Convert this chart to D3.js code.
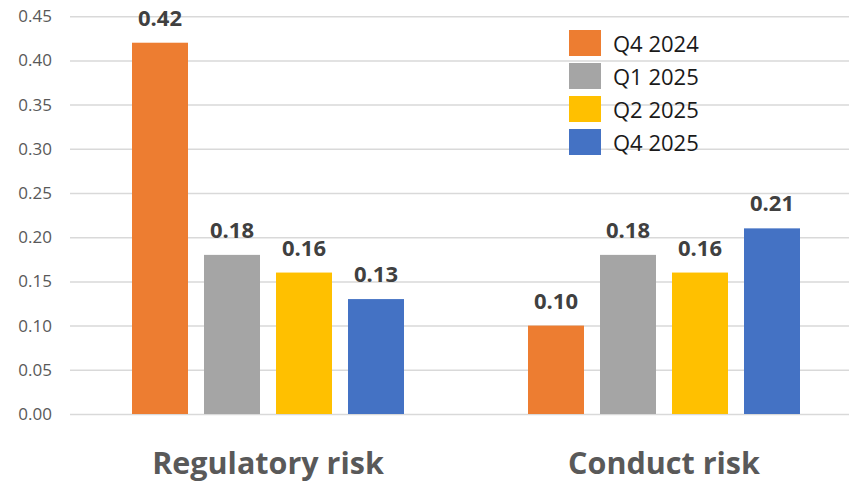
<!DOCTYPE html>
<html>
<head>
<meta charset="utf-8">
<script src="https://cdn.jsdelivr.net/npm/d3@7"></script>
<style>
  html, body { margin: 0; padding: 0; background: #fff; }
  svg { display: block; }
</style>
</head>
<body>
<svg id="chart" width="849" height="484"></svg>
<script>
// Risk categories and quarterly series
const categories = ["Regulatory risk", "Conduct risk"];
const seriesNames = ["Q4 2024", "Q1 2025", "Q2 2025", "Q4 2025"];
const seriesColors = ["#ED7D31", "#A5A5A5", "#FFC000", "#4472C4"];
const q4_2024 = [0.42, 0.10];
const q1_2025 = [0.18, 0.18];
const q2_2025 = [0.16, 0.16];
const q4_2025 = [0.13, 0.21];
const yTicks = [0, 0.05, 0.10, 0.15, 0.20, 0.25, 0.30, 0.35, 0.40, 0.45];

const seriesValues = [q4_2024, q1_2025, q2_2025, q4_2025];

const svg = d3.select("#chart");
const font = "'Open Sans', 'DejaVu Sans', sans-serif";

const y = d3.scaleLinear().domain([0, 0.45]).range([414, 16.2]);
const x0 = d3.scaleBand().domain(categories).range([70, 862]).paddingInner(0).paddingOuter(0);

// bars within each category occupy a centred block
const groupWidth = 272;
const x1 = d3.scaleBand().domain(seriesNames)
  .range([(x0.bandwidth() - groupWidth) / 2, (x0.bandwidth() + groupWidth) / 2])
  .paddingInner(16 / 72).paddingOuter(0);

// Gridlines and value axis
const yAxis = d3.axisLeft(y).tickValues(yTicks).tickSize(-780).tickFormat(d3.format(".2f")).tickPadding(18);
const gAxis = svg.append("g").attr("transform", "translate(70,0)").call(yAxis);
gAxis.select(".domain").remove();
gAxis.selectAll(".tick line").attr("stroke", "#D9D9D9").attr("stroke-width", 1.5);
gAxis.selectAll(".tick text")
  .attr("fill", "#595959")
  .style("font-family", font)
  .style("font-size", "17px");

// Bars
const groups = svg.append("g").selectAll("g")
  .data(categories)
  .join("g")
  .attr("transform", d => `translate(${x0(d)},0)`);

groups.each(function (cat, ci) {
  const g = d3.select(this);
  const rows = seriesNames.map((s, si) => ({ s, si, v: seriesValues[si][ci] }));
  g.selectAll("rect")
    .data(rows)
    .join("rect")
    .attr("x", d => x1(d.s))
    .attr("y", d => y(d.v))
    .attr("width", x1.bandwidth())
    .attr("height", d => y(0) - y(d.v))
    .attr("fill", d => seriesColors[d.si]);
  g.selectAll("text.val")
    .data(rows)
    .join("text")
    .attr("class", "val")
    .attr("x", d => x1(d.s) + x1.bandwidth() / 2)
    .attr("y", d => y(d.v) - 17)
    .attr("text-anchor", "middle")
    .attr("fill", "#404040")
    .style("font-family", font)
    .style("font-size", "22px")
    .style("font-weight", "bold")
    .text(d => d3.format(".2f")(d.v));
});

// Category labels
svg.append("g").selectAll("text")
  .data(categories)
  .join("text")
  .attr("x", d => x0(d) + x0.bandwidth() / 2)
  .attr("y", 474)
  .attr("text-anchor", "middle")
  .attr("fill", "#595959")
  .style("font-family", font)
  .style("font-size", "30.5px")
  .style("font-weight", "bold")
  .text(d => d);

// Legend
const legend = svg.append("g").attr("transform", "translate(569,30)");
const items = legend.selectAll("g")
  .data(seriesNames)
  .join("g")
  .attr("transform", (d, i) => `translate(0,${i * 33})`);
items.append("rect")
  .attr("width", 32)
  .attr("height", 26)
  .attr("fill", (d, i) => seriesColors[i]);
items.append("text")
  .attr("x", 44)
  .attr("y", 14)
  .attr("dy", "0.35em")
  .attr("fill", "#1a1a1a")
  .style("font-family", font)
  .style("font-size", "22px")
  .text(d => d);
</script>
</body>
</html>
